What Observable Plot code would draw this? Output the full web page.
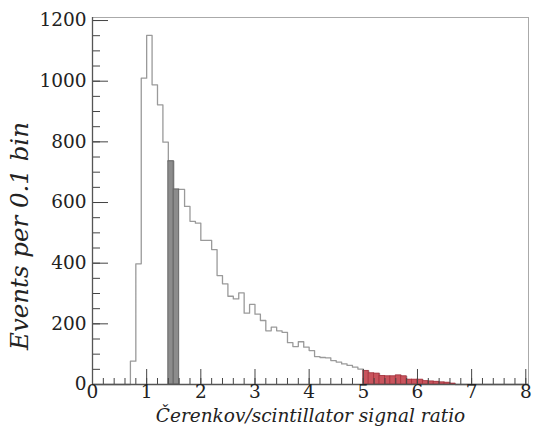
<!DOCTYPE html>
<html><head><meta charset="utf-8">
<script src="https://cdn.jsdelivr.net/npm/d3@7"></script>
<script src="https://cdn.jsdelivr.net/npm/@observablehq/plot@0.6"></script>
<style>
body{margin:0;background:#fff}
</style>
</head><body><div id="chart"></div>
<script>
// Histogram bins (lower edge) and counts, bin width 0.1
const binStart = [0.7,0.8,0.9,1.0,1.1,1.2,1.3,1.4,1.5,1.6,1.7,1.8,1.9,2.0,2.1,2.2,2.3,2.4,2.5,2.6,2.7,2.8,2.9,3.0,3.1,3.2,3.3,3.4,3.5,3.6,3.7,3.8,3.9,4.0,4.1,4.2,4.3,4.4,4.5,4.6,4.7,4.8,4.9,5.0,5.1,5.2,5.3,5.4,5.5,5.6,5.7,5.8,5.9,6.0,6.1,6.2,6.3,6.4,6.5,6.6];
const counts   = [77,398,1010,1151,988,922,799,736,643,643,587,538,532,475,475,445,359,332,291,282,302,235,264,232,211,177,189,177,172,138,125,141,123,112,92,89,88,79,74,68,63,57,51,45,37,36,28,27,27,30,27,16,16,16,11,10,9,7,6,3];
const binWidth = 0.1;
const greyBins = [1.4, 1.5];
const redBins = [5.0,5.1,5.2,5.3,5.4,5.5,5.6,5.7,5.8,5.9,6.0,6.1,6.2,6.3,6.4,6.5,6.6];
const xTickLabels = [0,1,2,3,4,5,6,7,8];
const yTickLabels = [0,200,400,600,800,1000,1200];
const xTitle = "Čerenkov/scintillator signal ratio";
const yTitle = "Events per 0.1 bin";

const bins = binStart.map((x, i) => ({x1: x, x2: x + binWidth, y: counts[i]}));
const outline = [{x: 0, y: 0}, ...binStart.map((x, i) => ({x, y: counts[i]})),
  {x: binStart[binStart.length - 1] + binWidth, y: 0}, {x: 8.05, y: 0}];
const xMinor = d3.range(0, 8.001, 0.2);
const yMinor = d3.range(0, 1201, 50);

const W = 533, H = 440, ML = 92, MR = 5, MT = 17, MB = 56;
const FW = W - ML - MR, FH = H - MT - MB;
const SERIF = "DejaVu Serif";

const chart = Plot.plot({
  width: W, height: H,
  marginLeft: ML, marginRight: MR, marginTop: MT, marginBottom: MB,
  x: {domain: [0, 8.05]},
  y: {domain: [0, 1210]},
  style: "font-family: 'DejaVu Serif'; font-size: 18px; color: #222; background: #fff;",
  marks: [
    Plot.frame({stroke: "#aaa"}),
    Plot.line(outline, {x: "x", y: "y", curve: "step-after", stroke: "#9a9a9a", strokeWidth: 1.3}),
    Plot.rectY(bins.filter(d => greyBins.includes(d.x1)), {x1: "x1", x2: "x2", y: "y", fill: "#8c8c8c", stroke: "#666", strokeWidth: 1}),
    Plot.rectY(bins.filter(d => redBins.includes(d.x1)), {x1: "x1", x2: "x2", y: "y", fill: "#c9545d", stroke: "#a8323d", strokeWidth: 0.8}),
    Plot.tickX(xMinor, {x: d => d, insetTop: FH - 6, stroke: "#444"}),
    Plot.tickX(xTickLabels, {x: d => d, insetTop: FH - 15, stroke: "#444"}),
    Plot.tickY(yMinor, {y: d => d, insetRight: FW - 8, stroke: "#444"}),
    Plot.tickY(yTickLabels, {y: d => d, insetRight: FW - 16, stroke: "#444"}),
    Plot.ruleY([0], {stroke: "#555", strokeWidth: 1.3}),
    Plot.ruleX([0], {stroke: "#555", strokeWidth: 1.3}),
    Plot.axisX({ticks: xTickLabels, tickSize: 0, tickPadding: 0, label: null, tickFormat: d => String(d), fontSize: 18.5, fontFamily: SERIF, fill: "#222"}),
    Plot.axisY({ticks: yTickLabels, tickSize: 0, tickPadding: 6, label: null, tickFormat: d => String(d), fontSize: 18.5, fontFamily: SERIF, fill: "#222"}),
    Plot.text([xTitle], {frameAnchor: "bottom", textAnchor: "middle", dy: 37, text: d => d, fontStyle: "italic", fontSize: 18.5, fontFamily: SERIF, fill: "#222"}),
    Plot.text([yTitle], {frameAnchor: "left", textAnchor: "middle", rotate: -90, dx: -72, dy: 35, text: d => d, fontStyle: "italic", fontSize: 24.5, fontFamily: SERIF, fill: "#222"})
  ]
});
document.getElementById("chart").appendChild(chart);
</script>
</body></html>
